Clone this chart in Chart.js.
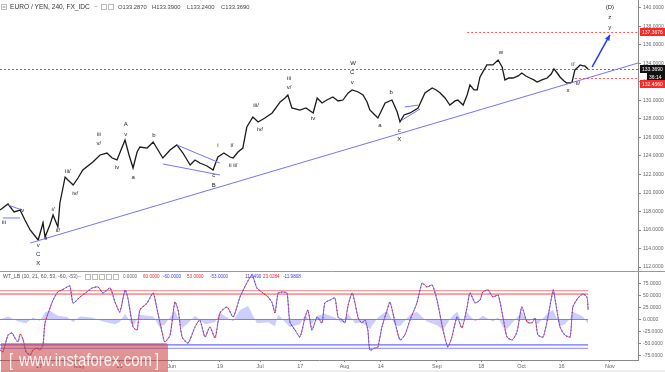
<!DOCTYPE html>
<html>
<head>
<meta charset="utf-8">
<title>EURO / YEN, 240</title>
<script src="https://cdn.jsdelivr.net/npm/chart.js@4.4.1/dist/chart.umd.min.js"></script>
<style>
  html, body { margin: 0; padding: 0; background: #ffffff; overflow: hidden; }
  canvas { display: block; }
</style>
</head>
<body>
<canvas id="myChart" width="665" height="372"></canvas>
<script>
// x = trading days counted from Mon 17 Apr 2017 (= 0)
const priceDay = [-9.7, -7.7, -6.2, -4.7, -3.5, -2.2, -0.2, 1.0, 1.5, 2.7,
  3.5, 4.7, 5.2, 6.5, 7.2, 8.5, 9.7, 10.9, 13.4, 15.2,
  16.9, 18.2, 19.4, 20.4, 21.4, 22.4, 23.4, 24.4, 25.1, 26.9,
  28.4, 29.6, 30.8, 32.6, 34.3, 35.8, 37.6, 38.8, 40.0, 41.8,
  43.3, 44.5, 46.0, 47.5, 48.3, 49.5, 50.7, 51.7, 53.2, 54.5,
  56.2, 58.0, 60.0, 61.2, 61.9, 62.9, 64.9, 66.4, 68.2, 69.2,
  70.4, 71.6, 73.1, 74.4, 75.6, 76.9, 77.9, 79.4, 80.6, 81.6,
  82.3, 83.3, 84.3, 86.1, 87.8, 89.1, 89.8, 90.8, 92.3, 94.3,
  96.0, 97.8, 98.8, 99.8, 101.0, 102.2, 103.5, 104.2, 105.5, 106.5,
  107.2, 108.2, 109.0, 109.7, 110.7, 111.4, 112.9, 114.2, 115.2, 115.9,
  116.9, 117.9, 119.2, 120.1, 121.1, 122.1, 123.1, 123.9, 125.1, 126.4,
  127.4, 128.1, 128.9, 129.6, 130.6, 131.3, 132.1, 132.6, 133.3, 134.1,
  134.6, 135.3, 135.8, 136.6];
const priceClose = [118.16, 118.81, 117.95, 118.16, 117.08, 116.0, 114.92, 116.76, 115.24, 116.54,
  117.62, 116.32, 118.92, 121.73, 121.41, 120.86, 121.62, 122.49, 123.35, 124.11,
  124.32, 123.78, 123.57, 124.65, 125.73, 124.11, 122.70, 124.43, 124.97, 124.86,
  125.51, 124.65, 123.78, 124.65, 125.19, 124.32, 123.03, 123.57, 123.24, 122.92,
  122.49, 123.89, 124.32, 123.89, 123.78, 124.43, 124.86, 127.14, 128.22, 127.68,
  128.11, 128.65, 129.84, 130.27, 130.59, 129.19, 128.97, 129.19, 128.65, 130.27,
  129.73, 130.05, 130.38, 129.95, 130.05, 130.81, 131.14, 130.92, 130.59, 129.84,
  128.97, 128.54, 128.11, 129.73, 130.05, 128.76, 127.68, 128.43, 128.65, 129.19,
  130.81, 131.35, 131.14, 130.81, 130.27, 129.51, 129.95, 130.05, 129.51, 130.59,
  131.68, 131.14, 131.14, 132.54, 133.30, 133.84, 133.84, 134.38, 133.62, 132.22,
  132.43, 132.43, 132.65, 132.97, 132.65, 132.43, 132.22, 132.0, 132.22, 132.43,
  132.86, 133.41, 132.97, 132.54, 132.11, 131.89, 131.89, 132.0, 133.30, 133.62,
  133.84, 133.73, 133.73, 133.37];

const oscDay = [-9.7, -9.0, -7.7, -6.7, -6.0, -5.2, -4.7, -4.0, -3.2, -2.2,
  -1.5, -0.5, 0.2, 1.0, 1.5, 3.5, 4.7, 5.7, 7.0, 7.7,
  8.5, 10.2, 11.9, 13.2, 14.7, 15.9, 17.7, 18.9, 20.1, 21.4,
  22.1, 23.4, 24.4, 25.1, 26.9, 28.4, 29.4, 30.6, 31.3, 32.6,
  33.8, 34.6, 35.6, 37.1, 38.8, 40.0, 41.3, 42.5, 43.8, 45.0,
  46.8, 48.3, 50.0, 51.7, 53.0, 54.2, 55.7, 57.0, 58.0, 58.7,
  59.5, 60.7, 61.7, 62.4, 63.7, 64.9, 66.2, 66.9, 67.9, 69.2,
  70.4, 71.1, 72.4, 73.6, 74.4, 75.4, 76.1, 76.9, 77.9, 78.6,
  79.4, 80.3, 81.1, 81.8, 82.3, 83.6, 84.3, 85.3, 86.6, 87.3,
  88.6, 89.8, 91.0, 92.3, 94.0, 95.3, 96.5, 97.8, 99.0, 100.5,
  101.7, 102.7, 104.0, 105.2, 106.5, 107.2, 108.5, 109.7, 110.4, 111.7,
  112.9, 114.2, 115.4, 116.4, 117.7, 118.9, 120.1, 121.4, 122.6, 123.4,
  124.1, 125.4, 126.6, 127.9, 128.4, 129.6, 130.8, 132.1, 132.8, 134.1,
  135.3, 136.3, 136.6];
const oscWave = [-63.5, -67.7, -32.3, -28.1, -38.5, -46.9, -30.2, -40.6, -67.7, -74.0,
  -63.5, -59.4, -63.5, -53.1, -7.3, 40.6, 57.3, 61.5, 67.7, 69.8,
  34.4, 46.9, 57.3, 65.6, 67.7, 55.2, 65.6, 36.5, 15.6, 61.5,
  44.8, -15.6, -21.9, 19.8, 34.4, 55.2, 19.8, -26.0, -46.9, -32.3,
  36.5, 19.8, -36.5, -49.0, -15.6, -1.0, -36.5, -15.6, -38.5, 13.5,
  26.0, 5.2, 46.9, 76.0, 92.7, 65.6, 55.2, 46.9, 34.4, 13.5,
  55.2, 57.3, 55.2, -5.2, -21.9, -36.5, 5.2, 19.8, -21.9, 5.2,
  -7.3, 34.4, 40.6, 44.8, 5.2, -1.0, -7.3, 30.2, 55.2, 34.4,
  3.1, -7.3, -1.0, -21.9, -63.5, -59.4, -57.3, -15.6, 19.8, 36.5,
  -7.3, -42.7, -32.3, -1.0, 34.4, 76.0, 67.7, 71.9, 40.6, -21.9,
  -57.3, -36.5, 5.2, -17.7, 26.0, 55.2, 34.4, 40.6, 57.3, 61.5,
  46.9, 51.0, 5.2, -36.5, -42.7, -26.0, 26.0, -5.2, -7.3, 3.1,
  -32.3, -36.5, 5.2, 61.5, 40.6, -15.6, -32.3, -36.5, 26.0, 44.8,
  53.1, 46.9, 19.8];

const histDay = [-9.7, -7.7, -5.2, -3.2, -1.5, 0.2, 1.5, 2.7, 4.7, 7.0,
  8.5, 10.2, 13.2, 15.9, 18.9, 20.1, 21.4, 23.4, 25.1, 28.4,
  30.0, 31.3, 33.8, 35.6, 37.1, 38.8, 41.3, 43.8, 45.0, 48.3,
  50.0, 52.0, 54.2, 57.0, 58.7, 59.5, 62.4, 64.9, 66.2, 67.9,
  69.2, 71.1, 73.6, 75.4, 76.9, 78.6, 80.3, 82.3, 84.3, 86.6,
  88.6, 89.8, 92.3, 94.0, 96.5, 99.0, 100.5, 102.7, 104.0, 105.2,
  106.5, 108.5, 110.4, 112.9, 114.2, 115.4, 116.4, 118.9, 120.1, 121.4,
  123.4, 124.1, 126.6, 127.9, 129.6, 130.8, 132.1, 132.8, 135.3, 136.6];
const histValue = [0, 6, -4, -8, 4, -3, 15, 18, 8, 5,
  -6, 6, 4, -4, -10, -5, 12, -14, 10, 6,
  -16, -10, 18, -18, -8, 8, -10, -6, 14, -4,
  20, 28, -8, -6, -14, 10, -16, -10, 10, -10,
  8, 12, 4, -8, 12, -8, -6, -20, 4, 18,
  -12, -14, 10, 16, -4, -12, -22, 6, 16, -6,
  14, -4, 8, -4, 4, -16, -20, 4, 16, -6,
  4, -10, 14, 20, -14, -10, 2, 16, 6, -10];

const oscLevels = [60, 53, 0, -53, -60];
const priceTicks = [112, 114, 116, 118, 120, 122, 124, 126, 128, 130, 132, 134, 136, 138, 140];
const oscTicks = [-75, -50, -25, 0, 25, 50, 75];
const dateTickDays = [0, 10, 20, 33, 45, 55, 65, 76, 85, 99, 110, 120, 130, 142];
const dateTickLabels = ['17', 'May', '15', 'Jun', '19', 'Jul', '17', 'Aug', '14', 'Sep', '18', 'Oct', '16', 'Nov'];

const lastClose = 133.369;
const targetHigh = 137.3676;
const targetFrom = 106.5;
const stopLevel = 132.456;
const stopFrom = 133.3;

// wave count labels (day, price)
const waveText = ['iii', 'iv', 'v', 'C', 'X', 'i', 'ii', 'i/', 'ii/', 'iii/', 'iv/',
  'iii', 'v/', 'iv', 'A', 'v', 'a', 'b', 'c', 'B', 'i', 'i/', 'ii ii/',
  'iii/', 'iv/', 'iii', 'v/', 'iv', 'W', 'C', 'v', 'a', 'b', 'c', 'X',
  'w', 'i/', 'ii/', 'x', '(D)', 'z', 'y'];
const waveDay = [-8.7, -4.2, -0.2, -0.2, -0.2, 1.0, 1.7, 3.5, 4.7, 7.2, 9.0,
  14.9, 14.9, 19.4, 21.6, 21.6, 23.4, 28.6, 43.5, 43.5, 44.5, 48.0, 48.3,
  54.0, 55.0, 62.2, 62.2, 68.2, 78.1, 77.9, 77.9, 84.8, 87.6, 89.6, 89.6,
  114.9, 132.8, 134.1, 131.6, 142.0, 142.0, 142.0];
const wavePrice = [116.86, 118.16, 114.38, 113.41, 112.43, 116.76, 115.14, 118.27, 116.0, 122.38, 120.0,
  126.38, 125.41, 122.81, 127.46, 126.38, 121.73, 126.27, 121.95, 120.86, 125.19, 125.19, 123.03,
  129.51, 126.92, 132.43, 131.46, 128.11, 134.05, 133.08, 132.0, 127.35, 130.92, 126.81, 125.84,
  135.24, 133.95, 131.89, 131.14, 140.11, 139.03, 137.95];

// blue trend and triangle lines: [day1, price1, day2, price2]
const trendLines = [
  [-2.2, 114.59, 149, 134.05],
  [-7.7, 118.70, -4.2, 118.16], [-9.0, 117.30, -4.7, 117.30],
  [34.3, 125.19, 45.0, 123.24], [30.8, 123.14, 45.0, 121.95],
  [90.3, 127.89, 94.8, 129.08], [91.0, 129.30, 94.3, 129.50]
];
const arrowLine = [137.6, 133.62, 142.0, 137.08];

const FONT = '"Liberation Sans", Arial, sans-serif';
const zip = (xs, ys) => xs.map((x, i) => ({ x: x, y: ys[i] }));
const firstDay = priceDay[0];
const lastDay = priceDay[priceDay.length - 1];
const levelColors = ['rgba(255,120,120,0.9)', 'rgba(245,50,50,0.9)', 'rgba(120,120,170,0.9)', 'rgba(50,50,255,0.9)', 'rgba(120,120,255,0.9)'];

function seg(c, x1, y1, x2, y2) {
  c.beginPath(); c.moveTo(x1, y1); c.lineTo(x2, y2); c.stroke();
}
function tag(c, txt, yc, x0, bg) {
  c.fillStyle = bg;
  c.fillRect(x0, Math.round(yc) - 4, 665 - x0, 8);
  c.fillStyle = '#fff';
  c.textAlign = 'left'; c.textBaseline = 'middle';
  c.fillText(txt, x0 + 2, Math.round(yc) + 0.5);
}
function box(c, x, y) {
  c.strokeStyle = '#bbb'; c.lineWidth = 1;
  c.strokeRect(x + 0.5, y + 0.5, 5, 5);
}
function noPad(a) {
  a.paddingTop = 0; a.paddingBottom = 0; a.paddingLeft = 0; a.paddingRight = 0;
}
function squeezed(c, txt, x, y, w) {
  const k = w / c.measureText(txt).width;
  c.save(); c.translate(x, y); c.scale(k, 1); c.fillText(txt, 0, 0); c.restore();
}

const overlay = {
  id: 'overlay',
  beforeDatasetsDraw(chart) {
    const c = chart.ctx, sx = chart.scales.x, sy = chart.scales.y;
    c.save();
    c.lineWidth = 1;
    c.setLineDash([2, 2]);
    c.strokeStyle = '#777';
    let yy = Math.round(sy.getPixelForValue(lastClose)) + 0.5;
    seg(c, sx.left, yy, sx.right, yy);
    c.strokeStyle = 'rgb(255,90,90)';
    yy = Math.round(sy.getPixelForValue(targetHigh)) + 0.5;
    seg(c, sx.getPixelForValue(targetFrom), yy, sx.right, yy);
    yy = Math.round(sy.getPixelForValue(stopLevel)) + 0.5;
    seg(c, sx.getPixelForValue(stopFrom), yy, sx.right, yy);
    c.restore();
  },
  afterDatasetsDraw(chart) {
    const c = chart.ctx, sx = chart.scales.x, sy = chart.scales.y;
    c.save();
    c.strokeStyle = 'rgb(115,115,255)';
    c.lineWidth = 1;
    trendLines.forEach(t => seg(c, sx.getPixelForValue(t[0]), sy.getPixelForValue(t[1]),
      sx.getPixelForValue(t[2]), sy.getPixelForValue(t[3])));

    const ax1 = sx.getPixelForValue(arrowLine[0]), ay1 = sy.getPixelForValue(arrowLine[1]);
    const ax2 = sx.getPixelForValue(arrowLine[2]), ay2 = sy.getPixelForValue(arrowLine[3]);
    c.strokeStyle = 'rgb(30,60,255)'; c.fillStyle = 'rgb(30,60,255)'; c.lineWidth = 1.5;
    seg(c, ax1, ay1, ax2, ay2);
    const ang = Math.atan2(ay2 - ay1, ax2 - ax1);
    c.beginPath();
    c.moveTo(ax2, ay2);
    c.lineTo(ax2 - 6 * Math.cos(ang - 0.45), ay2 - 6 * Math.sin(ang - 0.45));
    c.lineTo(ax2 - 6 * Math.cos(ang + 0.45), ay2 - 6 * Math.sin(ang + 0.45));
    c.closePath(); c.fill();

    c.fillStyle = '#222';
    c.font = '6px ' + FONT;
    c.textAlign = 'center'; c.textBaseline = 'middle';
    waveText.forEach((t, i) => c.fillText(t, sx.getPixelForValue(waveDay[i]), sy.getPixelForValue(wavePrice[i])));
    c.restore();
  },
  afterDraw(chart) {
    const c = chart.ctx, sy = chart.scales.y, so = chart.scales.osc;
    c.save();
    // pane separator
    c.strokeStyle = '#999'; c.lineWidth = 1;
    const sepY = Math.round(so.top) + 0.5;
    seg(c, 0, sepY, 665, sepY);

    // price tags on the right axis
    c.font = '5px ' + FONT;
    tag(c, targetHigh.toFixed(4), sy.getPixelForValue(targetHigh), 640, 'rgb(250,40,40)');
    const yc = sy.getPixelForValue(lastClose);
    tag(c, lastClose.toFixed(4), yc, 640, '#111');
    tag(c, '36:14', yc + 7.5, 647, '#111');
    tag(c, stopLevel.toFixed(4), yc + 15, 640, 'rgb(250,40,40)');

    // main header
    c.textAlign = 'left'; c.textBaseline = 'middle';
    box(c, 1, 4);
    c.strokeStyle = '#888'; seg(c, 2.5, 7, 5.5, 7);
    c.fillStyle = '#333';
    c.font = '6.6px ' + FONT;
    c.fillText('EURO / YEN, 240, FX_IDC', 10, 7.5);
    c.fillStyle = '#999';
    c.fillText('~', 94, 7.5);
    box(c, 101, 4); box(c, 108, 4);
    c.fillStyle = '#444';
    c.font = '5.8px ' + FONT;
    c.fillText('O133.2870', 118, 7.5);
    c.fillText('H133.3900', 152, 7.5);
    c.fillText('L133.2400', 187, 7.5);
    c.fillText('C133.3690', 221, 7.5);

    // indicator header
    const hy = 277;
    c.fillStyle = '#555';
    c.font = '5.2px ' + FONT;
    c.fillText('WT_LB (10, 21, 60, 53, -60, -53)', 3, hy);
    c.fillStyle = '#999';
    c.fillText('~', 78, hy);
    [85, 92, 99, 106, 113].forEach(x => box(c, x, hy - 3));
    c.font = '4.6px ' + FONT;
    const vals = [['0.0000', 123, '#666'], ['60.0000', 143, 'rgb(240,40,40)'], ['-60.0000', 163, 'rgb(60,60,240)'],
      ['53.0000', 187, 'rgb(240,40,40)'], ['-53.0000', 210, 'rgb(60,60,240)'], ['11.0490', 245, 'rgb(60,60,240)'],
      ['23.0284', 263, 'rgb(240,40,40)'], ['-11.9808', 283, 'rgb(60,60,240)']];
    vals.forEach(v => { c.fillStyle = v[2]; c.fillText(v[0], v[1], hy); });

    // bottom strip
    c.fillStyle = '#eeeeee';
    c.fillRect(0, 370, 665, 2);

    // watermark
    c.fillStyle = 'rgba(200,60,60,0.55)';
    c.beginPath();
    c.moveTo(1, 343); c.lineTo(165, 343); c.quadraticCurveTo(168, 343, 168, 346);
    c.lineTo(168, 372); c.lineTo(1, 372); c.closePath(); c.fill();
    c.fillStyle = 'rgba(255,255,255,0.9)';
    c.font = '19px ' + FONT;
    c.textBaseline = 'alphabetic';
    squeezed(c, '[', 9, 366, 4);
    squeezed(c, 'www.instaforex.com', 19, 366, 133);
    squeezed(c, ']', 155, 366, 4);
    c.restore();
  }
};

const datasets = [
  {
    label: 'hist', data: zip(histDay, histValue), yAxisID: 'osc', order: 10,
    borderWidth: 0, backgroundColor: 'rgba(130,130,255,0.4)', fill: 'origin', pointRadius: 0
  }
];
oscLevels.forEach((lv, i) => datasets.push({
  label: 'level ' + lv, data: [{ x: firstDay, y: lv }, { x: lastDay, y: lv }], yAxisID: 'osc', order: 9,
  borderColor: levelColors[i], borderWidth: 1, pointRadius: 0, fill: false
}));
datasets.push({
  label: 'WT1', data: zip(oscDay, oscWave), yAxisID: 'osc', order: 2,
  borderColor: 'rgb(100,100,255)', borderWidth: 1, pointRadius: 0, fill: false, tension: 0.2
});
datasets.push({
  label: 'WT2', data: zip(oscDay, oscWave), yAxisID: 'osc', order: 1,
  borderColor: 'rgb(235,40,40)', borderWidth: 1.2, borderDash: [1, 2.5], pointRadius: 0, fill: false, tension: 0.2
});
datasets.push({
  label: 'EURJPY', data: zip(priceDay, priceClose), yAxisID: 'y', order: 0,
  borderColor: '#1a1a1a', borderWidth: 1.3, pointRadius: 0, fill: false, tension: 0
});

const myChart = document.getElementById('myChart').getContext('2d');
const eurJpyChart = new Chart(myChart, {
  type: 'line',
  data: { datasets: datasets },
  plugins: [overlay],
  options: {
    responsive: false,
    devicePixelRatio: 1,
    animation: false,
    layout: { padding: 0 },
    plugins: { legend: { display: false }, tooltip: { enabled: false } },
    scales: {
      x: {
        type: 'linear', min: -9.7, max: 149,
        afterBuildTicks: a => { a.ticks = dateTickDays.map(v => ({ value: v })); },
        afterFit: a => { a.height = 12; noPad(a); },
        grid: { drawOnChartArea: false, tickLength: 2, color: '#888' },
        border: { display: true, color: '#888' },
        ticks: {
          autoSkip: false, maxRotation: 0, padding: 1, color: '#666',
          font: { family: FONT, size: 5.5 },
          callback: v => dateTickLabels[dateTickDays.indexOf(v)]
        }
      },
      y: {
        type: 'linear', position: 'right', stack: 'panes', stackWeight: 271,
        min: 111.57, max: 140.86,
        afterBuildTicks: a => { a.ticks = priceTicks.map(v => ({ value: v })); },
        afterFit: a => { a.width = 27; noPad(a); },
        grid: { drawOnChartArea: false, tickLength: 3, color: '#888' },
        border: { display: true, color: '#888' },
        ticks: { autoSkip: false, padding: 2, color: '#666', font: { family: FONT, size: 5 }, callback: v => v.toFixed(4) }
      },
      osc: {
        type: 'linear', position: 'right', stack: 'panes', stackWeight: 89,
        min: -84.4, max: 101,
        afterBuildTicks: a => { a.ticks = oscTicks.map(v => ({ value: v })); },
        afterFit: a => { a.width = 27; noPad(a); },
        grid: { drawOnChartArea: false, tickLength: 3, color: '#888' },
        border: { display: true, color: '#888' },
        ticks: { autoSkip: false, padding: 2, color: '#666', font: { family: FONT, size: 5 }, callback: v => v.toFixed(4) }
      }
    }
  }
});
</script>
</body>
</html>
